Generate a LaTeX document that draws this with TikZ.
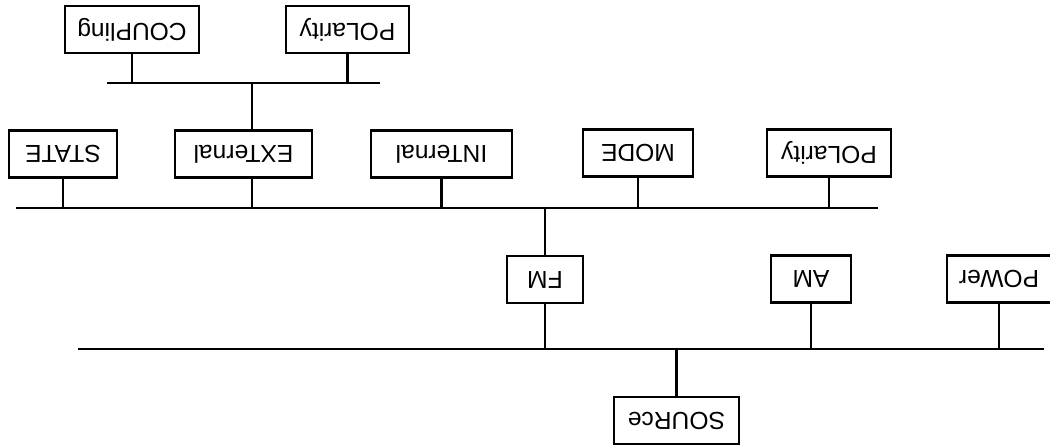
\documentclass[tikz,border=0pt]{standalone}
\usepackage{fontspec}
\setmainfont{Liberation Sans}
\tikzset{
    menubox/.style={draw, line width=1.2pt, minimum height=0.94cm, inner sep=0pt, font=\fontsize{14}{16}\selectfont},
    bus/.style={line width=1.5pt},
    stem/.style={line width=1.2pt}
}

\begin{document}
\begin{tikzpicture}[x=0.02cm, y=0.02cm, rotate=180, transform shape]
            \useasboundingbox (0,0) rectangle (1050,445);

            % root
            \node[menubox, minimum width=2.5cm] (source) at (373.5,420.5) {SOURce};

            % first level
            \coordinate (busAw) at (6,349);
            \coordinate (busAe) at (972,349);
            \draw[bus] (busAw) -- (busAe);
            \draw[stem] (source.south) -- (source.south |- busAw);

            \node[menubox, minimum width=2.08cm] (power) at (51,279) {POWer};
            \node[menubox, minimum width=1.6cm]  (am)    at (239,279) {AM};
            \node[menubox, minimum width=1.52cm] (fm)    at (505,279.5) {FM};
            \foreach \n in {power, am, fm}
                \draw[stem] (\n.north) -- (\n.north |- busAw);

            % FM submenu
            \coordinate (busBw) at (172,208);
            \coordinate (busBe) at (1034,208);
            \draw[bus] (busBw) -- (busBe);
            \draw[stem] (fm.south) -- (fm.south |- busBw);

            \node[menubox, minimum width=2.48cm] (fmpol)  at (221,153) {POLarity};
            \node[menubox, minimum width=2.2cm]  (mode)   at (412,153) {MODE};
            \node[menubox, minimum width=2.82cm] (int)    at (608.5,154) {INTernal};
            \node[menubox, minimum width=2.74cm] (ext)    at (806.5,154) {EXTernal};
            \node[menubox, minimum width=2.16cm] (state)  at (987,154) {STATE};
            \foreach \n in {fmpol, mode, int, state}
                \draw[stem] (\n.north) -- (\n.north |- busBw);
            \coordinate (exttap) at (798,154);
            \draw[stem] (exttap |- ext.north) -- (exttap |- busBw);

            % EXTernal submenu
            \coordinate (busCw) at (670,83);
            \coordinate (busCe) at (943,83);
            \draw[bus] (busCw) -- (busCe);
            \draw[stem] (exttap |- ext.south) -- (exttap |- busCw);

            \node[menubox, minimum width=2.46cm] (extpol) at (702.5,29.5) {POLarity};
            \node[menubox, minimum width=2.68cm] (coup)   at (918,29.5) {COUPling};
            \foreach \n in {extpol, coup}
                \draw[stem] (\n.north) -- (\n.north |- busCw);
        \end{tikzpicture}
\end{document}
